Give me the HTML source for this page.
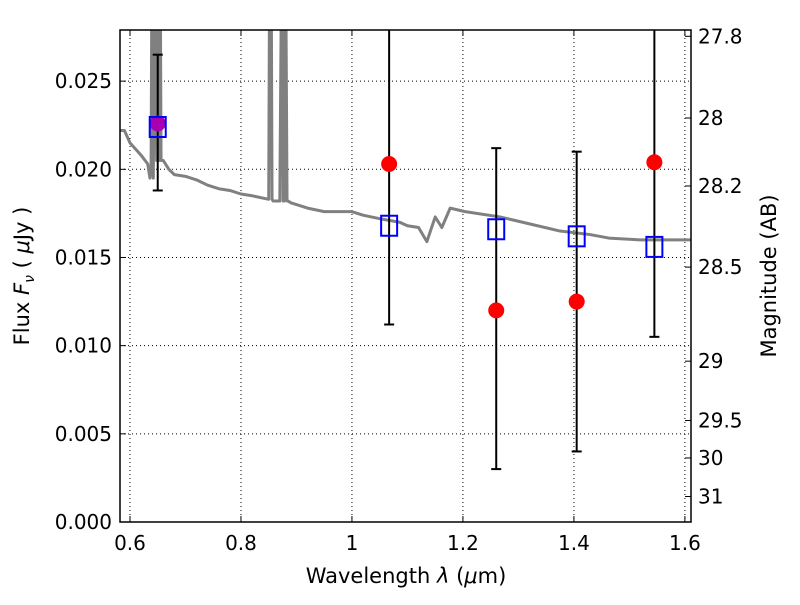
<!DOCTYPE html>
<html><head><meta charset="utf-8"><style>
body{margin:0;background:#fff;}
svg text{font-family:"DejaVu Sans","Liberation Sans",sans-serif;}
</style></head><body>
<svg id="chart" width="800" height="600" xmlns="http://www.w3.org/2000/svg"></svg>
<script>
const xTicks=[0.6,0.8,1.0,1.2,1.4,1.6];
const xTickLabels=["0.6","0.8","1","1.2","1.4","1.6"];
const yTicks=[0,0.005,0.010,0.015,0.020,0.025];
const yTickLabels=["0.000","0.005","0.010","0.015","0.020","0.025"];
const magTicks=[27.8,28,28.2,28.5,29,29.5,30,31];
const magLabels=["27.8","28","28.2","28.5","29","29.5","30","31"];
const bandWave=[0.65,1.067,1.26,1.405,1.545];
const obsFlux=[0.0226,0.0203,0.0120,0.0125,0.0204];
const errLow=[0.0188,0.0112,0.0030,0.0040,0.0105];
const errHigh=[0.0265,0.030,0.0212,0.0210,0.030];
const modelFlux=[0.0224,0.0168,0.0166,0.0162,0.0156];
const specWave=[0.582,0.59,0.60,0.62,0.632,0.636,0.638,0.640,0.642,0.646,0.648,0.650,0.652,0.654,0.656,0.66,0.67,0.68,0.70,0.72,0.74,0.76,0.78,0.80,0.82,0.85,0.852,0.854,0.856,0.858,0.87,0.874,0.876,0.878,0.880,0.883,0.885,0.89,0.92,0.95,1.0,1.02,1.05,1.086,1.10,1.12,1.135,1.150,1.162,1.177,1.204,1.267,1.321,1.375,1.429,1.463,1.519,1.611];
const specFlux=[0.0222,0.0222,0.0215,0.0208,0.0203,0.0195,0.0200,0.035,0.0195,0.035,0.0205,0.035,0.0205,0.035,0.0205,0.0205,0.0200,0.0197,0.0196,0.0194,0.0191,0.0189,0.0188,0.0186,0.0185,0.0183,0.035,0.035,0.0183,0.0182,0.0182,0.035,0.0182,0.0182,0.035,0.0182,0.0182,0.0181,0.0178,0.0176,0.0176,0.0174,0.0172,0.0170,0.0168,0.0167,0.0159,0.0173,0.0167,0.0178,0.0176,0.0173,0.0169,0.0165,0.0163,0.0161,0.0160,0.0160];

const L=120,R=691,T=30,B=522;
const X0=0.582,X1=1.611,Y0=0,Y1=0.0279;
const sx=v=>L+(v-X0)/(X1-X0)*(R-L);
const sy=v=>B-(v-Y0)/(Y1-Y0)*(B-T);
const magToFlux=m=>Math.pow(10,(23.9-m)/2.5);
const svg=document.getElementById('chart');
const NS="http://www.w3.org/2000/svg";
function mk(tag,attrs,parent){const e=document.createElementNS(NS,tag);for(const k in attrs)e.setAttribute(k,attrs[k]);(parent||svg).appendChild(e);return e;}

const defs=mk('defs',{});
const cp=mk('clipPath',{id:'clip'},defs);mk('rect',{x:L,y:T,width:R-L,height:B-T},cp);

// grid
xTicks.forEach((v,i)=>{
 const g=mk('line',{x1:sx(v),x2:sx(v),y1:T,y2:B,stroke:'#000','stroke-width':1,'stroke-dasharray':'1,3'});
 
 
 const t=mk('line',{x1:sx(v),x2:sx(v),y1:B,y2:B-6,stroke:'#000'});
 
 
 mk('line',{x1:sx(v),x2:sx(v),y1:T,y2:T+6,stroke:'#000'});
 const lb=mk('text',{x:sx(v),y:550,'font-size':20,'text-anchor':'middle'});lb.textContent=xTickLabels[i];
 
 
});
yTicks.forEach((v,i)=>{
 const g=mk('line',{x1:L,x2:R,y1:sy(v),y2:sy(v),stroke:'#000','stroke-width':1,'stroke-dasharray':'1,3'});
 
 
 mk('line',{x1:L,x2:L+6,y1:sy(v),y2:sy(v),stroke:'#000'});
 const lb=mk('text',{x:112,y:sy(v)+7,'font-size':20,'text-anchor':'end'});lb.textContent=yTickLabels[i];
 
 
});
magTicks.forEach((m,i)=>{
 const y=sy(magToFlux(m));
 mk('line',{x1:R,x2:R-6,y1:y,y2:y,stroke:'#000'});
 const lb=mk('text',{x:698,y:y+7,'font-size':20});lb.textContent=magLabels[i];
 
 
});

// spectrum
const gc=mk('g',{'clip-path':'url(#clip)'});
const sp=mk('polyline',{points:specWave.map((w,i)=>sx(w)+','+sy(specFlux[i])).join(' '),fill:'none',stroke:'#808080','stroke-width':3,'stroke-linejoin':'round'},gc);



// error bars
bandWave.forEach((w,i)=>{
 const x=sx(w);
 const e=mk('line',{x1:x,x2:x,y1:sy(errLow[i]),y2:sy(errHigh[i]),stroke:'#000','stroke-width':2},gc);
 
 
 [errLow[i],errHigh[i]].forEach(v=>{if(v<Y1)mk('line',{x1:x-5,x2:x+5,y1:sy(v),y2:sy(v),stroke:'#000','stroke-width':2},gc);});
});
// observed points
bandWave.forEach((w,i)=>{
 const c=mk('circle',{cx:sx(w),cy:sy(obsFlux[i]),r:8,fill:i===0?'#a800b0':'#ff0000'});
 
 
});
// model squares
bandWave.forEach((w,i)=>{
 const s=mk('rect',{x:sx(w)-8,y:sy(modelFlux[i])-10,width:16,height:20,fill:'none',stroke:'#0000ff','stroke-width':2});
 
 
});

const fr=mk('rect',{x:L,y:T,width:R-L,height:B-T,fill:'none',stroke:'#000','stroke-width':1.5});



const xt=mk('text',{x:406,y:583,'font-size':21,'text-anchor':'middle'});
xt.innerHTML='Wavelength  <tspan font-style="italic">λ</tspan> (<tspan font-style="italic">μ</tspan>m)';


const yt=mk('text',{x:0,y:0,'font-size':21,'text-anchor':'middle',transform:'translate(29,276) rotate(-90)'});
yt.innerHTML='Flux  <tspan font-style="italic">F</tspan><tspan font-style="italic" font-size="14" dy="5">ν</tspan><tspan dy="-5">  (  </tspan><tspan font-style="italic">μ</tspan>Jy )';


const rt=mk('text',{x:0,y:0,'font-size':21,'text-anchor':'middle',transform:'translate(776,276) rotate(-90)'});
rt.textContent='Magnitude (AB)';


</script>
</body></html>
